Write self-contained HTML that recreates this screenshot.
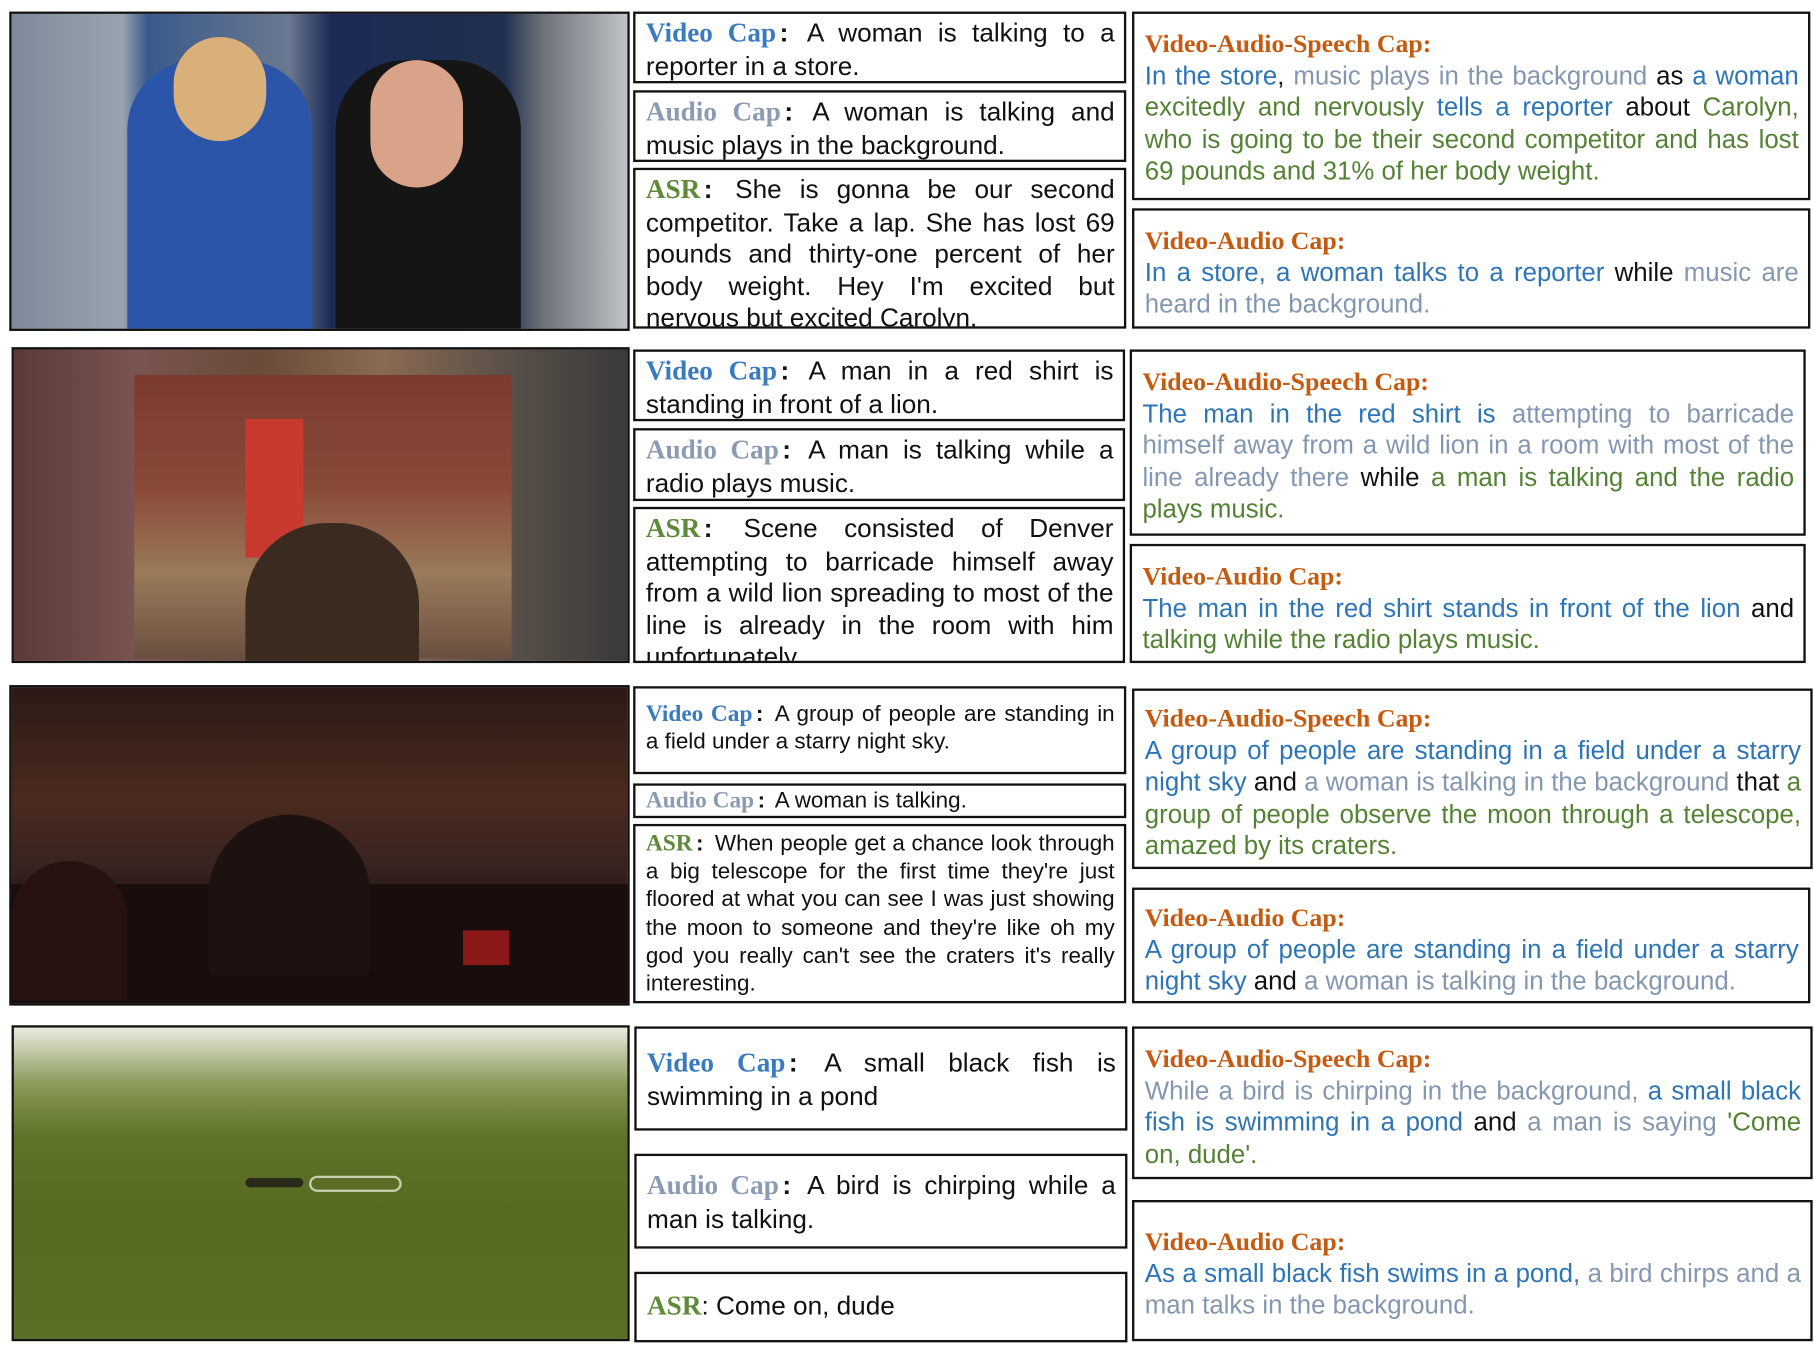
<!DOCTYPE html>
<html><head><meta charset="utf-8"><style>
html,body{margin:0;padding:0;background:#fff;}
body{width:1815px;height:1347px;overflow:hidden;position:relative;}
#wrap{position:absolute;left:0;top:0;width:1568px;height:1164px;transform:scale(1.1575,1.1572);transform-origin:0 0;}
.img{position:absolute;border:2px solid #111;box-sizing:border-box;overflow:hidden;}
.box{position:absolute;border:2.5px solid #111;box-sizing:border-box;padding:3px 8px 0 9px;font-family:"Liberation Sans",sans-serif;font-size:22.3px;line-height:27.5px;color:#111;text-align:justify;overflow:hidden;}
.mid{font-size:22.6px;}
.sm{font-size:19.4px;line-height:24.2px;}
.lb{font-family:"Liberation Serif",serif;font-weight:bold;font-size:1.04em;}
.c{margin:0 4px 0 3px;font-weight:bold;}
.vl{color:#3a7bbf}.al{color:#8a9bb2}.sl{color:#5e8a3a}
.or{font-family:"Liberation Serif",serif;font-weight:bold;color:#c55a11;display:block;}
.b{color:#2e75b6}.g{color:#8497b0}.gr{color:#548235}.k{color:#111}
</style></head><body>
<div id="wrap">
<!-- row 1 -->
<div class="img" style="left:8px;top:10px;width:536px;height:276px;background:linear-gradient(90deg,#7d8a9a 0%,#9aa4b0 18%,#3a5a8a 22%,#6a7890 45%,#1a2a55 52%,#20304e 80%,#6b7078 86%,#c0c4c8 100%);">
 <div style="position:absolute;left:100px;top:40px;width:160px;height:236px;background:#2a55a8;border-radius:60px 60px 0 0;"></div>
 <div style="position:absolute;left:140px;top:20px;width:80px;height:90px;background:#d9b07a;border-radius:40px;"></div>
 <div style="position:absolute;left:280px;top:40px;width:160px;height:236px;background:#151515;border-radius:60px 60px 0 0;"></div>
 <div style="position:absolute;left:310px;top:40px;width:80px;height:110px;background:#d9a38a;border-radius:40px;"></div>
</div>
<div class="box mid" style="left:547px;top:10px;width:426px;height:62px;"><span class="lb vl">Video Cap</span><span class="c">:</span> A woman is talking to a reporter in a store.</div>
<div class="box mid" style="left:547px;top:78px;width:426px;height:62px;"><span class="lb al">Audio Cap</span><span class="c">:</span> A woman is talking and music plays in the background.</div>
<div class="box mid" style="left:547px;top:145px;width:426px;height:139px;"><span class="lb sl">ASR</span><span class="c">:</span> She is gonna be our second competitor. Take a lap. She has lost 69 pounds and thirty-one percent of her body weight. Hey I'm excited but nervous but excited Carolyn.</div>
<div class="box" style="left:978px;top:10px;width:586px;height:163px;padding-top:12px;"><span class="or">Video-Audio-Speech Cap:</span><span class="b">In the store</span>, <span class="g">music plays in the background</span> as <span class="b">a woman</span> <span class="gr">excitedly and nervously</span> <span class="b">tells a reporter</span> about <span class="gr">Carolyn, who is going to be their second competitor and has lost 69 pounds and 31% of her body weight.</span></div>
<div class="box" style="left:978px;top:180px;width:586px;height:104px;padding-top:12px;"><span class="or">Video-Audio Cap:</span><span class="b">In a store, a woman talks to a reporter</span> while <span class="g">music are heard in the background.</span></div>
<!-- row 2 -->
<div class="img" style="left:10px;top:300px;width:534px;height:273px;background:linear-gradient(90deg,#5a3a38 0%,#7a5450 20%,#6a4a38 40%,#8a6a52 60%,#5a5048 80%,#3a3a3a 100%);">
 <div style="position:absolute;left:104px;top:22px;width:326px;height:245px;background:linear-gradient(180deg,#7a3a30 0%,#8a4a38 40%,#9a7a5a 70%,#6a5040 100%);"></div>
 <div style="position:absolute;left:200px;top:60px;width:50px;height:120px;background:#c83a30;"></div>
 <div style="position:absolute;left:200px;top:150px;width:150px;height:120px;background:#3a2a20;border-radius:70px 70px 0 0;"></div>
</div>
<div class="box mid" style="left:547px;top:302px;width:425px;height:62px;"><span class="lb vl">Video Cap</span><span class="c">:</span> A man in a red shirt is standing in front of a lion.</div>
<div class="box mid" style="left:547px;top:370px;width:425px;height:63px;"><span class="lb al">Audio Cap</span><span class="c">:</span> A man is talking while a radio plays music.</div>
<div class="box mid" style="left:547px;top:438px;width:425px;height:135px;"><span class="lb sl">ASR</span><span class="c">:</span> Scene consisted of Denver attempting to barricade himself away from a wild lion spreading to most of the line is already in the room with him unfortunately.</div>
<div class="box" style="left:976px;top:302px;width:584px;height:161px;padding-top:12px;"><span class="or">Video-Audio-Speech Cap:</span><span class="b">The man in the red shirt is</span> <span class="g">attempting to barricade himself away from a wild lion in a room with most of the line already there</span> while <span class="gr">a man is talking and the radio plays music.</span></div>
<div class="box" style="left:976px;top:470px;width:584px;height:103px;padding-top:12px;"><span class="or">Video-Audio Cap:</span><span class="b">The man in the red shirt stands in front of the lion</span> and <span class="gr">talking while the radio plays music.</span></div>
<!-- row 3 -->
<div class="img" style="left:8px;top:592px;width:536px;height:277px;background:linear-gradient(180deg,#2c1a16 0%,#4a2a1e 35%,#3a2420 55%,#1c1210 75%,#240c0c 100%);">
 <div style="position:absolute;left:0;top:170px;width:536px;height:107px;background:#1a0e0c;"></div>
 <div style="position:absolute;left:170px;top:110px;width:140px;height:140px;background:#1e1210;border-radius:70px 70px 10px 10px;"></div>
 <div style="position:absolute;left:0;top:150px;width:100px;height:120px;background:#281210;border-radius:50px 50px 0 0;"></div>
 <div style="position:absolute;left:390px;top:210px;width:40px;height:30px;background:#8a1818;"></div>
</div>
<div class="box sm" style="left:547px;top:593px;width:426px;height:76px;padding-top:10px;"><span class="lb vl">Video Cap</span><span class="c">:</span> A group of people are standing in a field under a starry night sky.</div>
<div class="box sm" style="left:547px;top:677px;width:426px;height:30px;padding-top:1px;"><span class="lb al">Audio Cap</span><span class="c">:</span> A woman is talking.</div>
<div class="box sm" style="left:547px;top:712px;width:426px;height:155px;padding-top:3px;"><span class="lb sl">ASR</span><span class="c">:</span> When people get a chance look through a big telescope for the first time they're just floored at what you can see I was just showing the moon to someone and they're like oh my god you really can't see the craters it's really interesting.</div>
<div class="box" style="left:978px;top:595px;width:588px;height:156px;padding-top:10px;"><span class="or">Video-Audio-Speech Cap:</span><span class="b">A group of people are standing in a field under a starry night sky</span> and <span class="g">a woman is talking in the background</span> that <span class="gr">a group of people observe the moon through a telescope, amazed by its craters.</span></div>
<div class="box" style="left:978px;top:767px;width:586px;height:100px;padding-top:10px;"><span class="or">Video-Audio Cap:</span><span class="b">A group of people are standing in a field under a starry night sky</span> and <span class="g">a woman is talking in the background.</span></div>
<!-- row 4 -->
<div class="img" style="left:10px;top:886px;width:534px;height:273px;background:linear-gradient(180deg,#e8ece0 0%,#8a9a5a 18%,#5e7228 35%,#566a22 60%,#5a6e26 100%);">
 <div style="position:absolute;left:200px;top:130px;width:50px;height:8px;background:#2a2a1a;border-radius:4px;"></div>
 <div style="position:absolute;left:255px;top:128px;width:80px;height:14px;border:2px solid #c8d0b0;border-radius:40px;box-sizing:border-box;"></div>
</div>
<div class="box mid" style="left:548px;top:887px;width:426px;height:90px;padding-top:16px;"><span class="lb vl">Video Cap</span><span class="c">:</span> A small black fish is swimming in a pond</div>
<div class="box mid" style="left:548px;top:997px;width:426px;height:82px;padding-top:12px;"><span class="lb al">Audio Cap</span><span class="c">:</span> A bird is chirping while a man is talking.</div>
<div class="box mid" style="left:548px;top:1099px;width:426px;height:61px;padding-top:14px;"><span class="lb sl">ASR</span>: Come on, dude</div>
<div class="box" style="left:978px;top:887px;width:588px;height:132px;padding-top:12px;"><span class="or">Video-Audio-Speech Cap:</span><span class="g">While a bird is chirping in the background,</span> <span class="b">a small black fish is swimming in a pond</span> and <span class="g">a man is saying</span> <span class="gr">'Come on, dude'.</span></div>
<div class="box" style="left:978px;top:1037px;width:588px;height:122px;padding-top:20px;"><span class="or">Video-Audio Cap:</span><span class="b">As a small black fish swims in a pond,</span> <span class="g">a bird chirps and a man talks in the background.</span></div>
</div>
</body></html>
